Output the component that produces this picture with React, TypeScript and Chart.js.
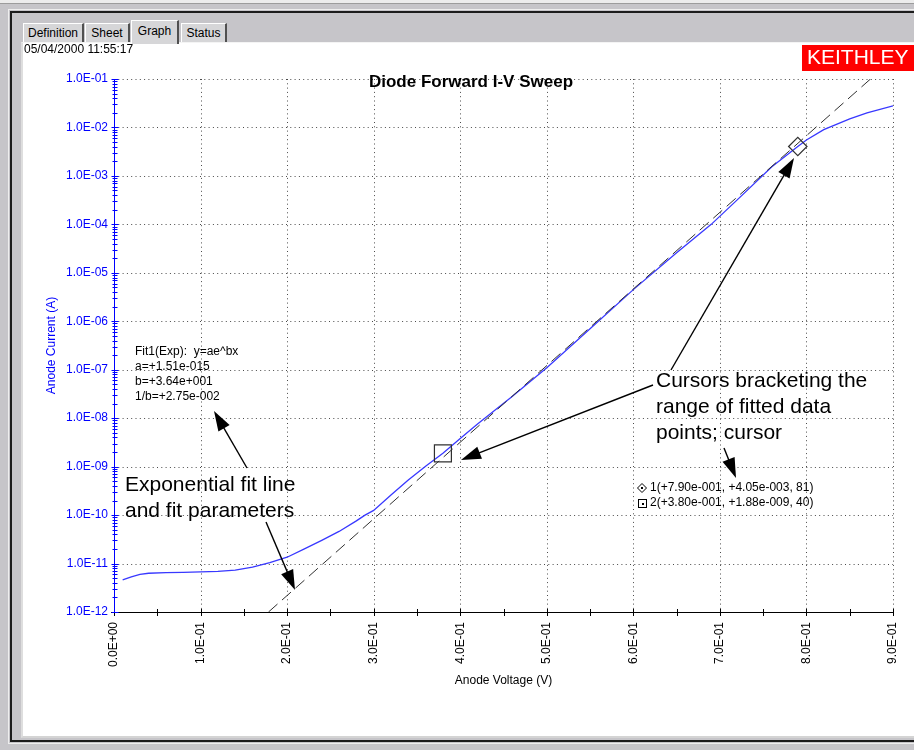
import React, { useEffect, useRef } from 'react';
import { Chart, registerables } from 'chart.js';

Chart.register(...registerables);

// ---- data ----
const voltage = [0.01, 0.02, 0.03, 0.04, 0.06, 0.08, 0.10, 0.12, 0.14, 0.16, 0.18, 0.20, 0.22, 0.24, 0.26, 0.28, 0.29, 0.30, 0.32, 0.34, 0.36, 0.38, 0.40, 0.42, 0.44, 0.46, 0.50, 0.55, 0.60, 0.65, 0.69, 0.72, 0.76, 0.79, 0.80, 0.82, 0.85, 0.87, 0.90];
const current = [4.6e-12, 5.3e-12, 6.0e-12, 6.3e-12, 6.5e-12, 6.6e-12, 6.7e-12, 6.9e-12, 7.3e-12, 8.4e-12, 1.05e-11, 1.35e-11, 2.0e-11, 3.0e-11, 4.6e-11, 7.6e-11, 1.0e-10, 1.25e-10, 2.6e-10, 5.3e-10, 1.02e-9, 1.88e-9, 3.8e-9, 7.6e-9, 1.45e-8, 2.8e-8, 1.1e-7, 7.0e-7, 4.5e-6, 2.6e-5, 1.0e-4, 3.2e-4, 1.55e-3, 4.05e-3, 5.5e-3, 9.0e-3, 1.5e-2, 2.0e-2, 2.8e-2];

const fitVoltage = [0.1785, 0.874];
const fitCurrent = [1e-12, 1e-1];

const cursorVoltage = [0.79, 0.38];
const cursorCurrent = [4.05e-3, 1.88e-9];

const xTickValues = [0, 0.1, 0.2, 0.3, 0.4, 0.5, 0.6, 0.7, 0.8, 0.9];
const xMinorValues = [0.05, 0.15, 0.25, 0.35, 0.45, 0.55, 0.65, 0.75, 0.85];
const yDecades = [-12, -11, -10, -9, -8, -7, -6, -5, -4, -3, -2, -1];

const chartTitle = 'Diode Forward I-V Sweep';
const xTitle = 'Anode Voltage (V)';
const yTitle = 'Anode Current (A)';
const timestamp = '05/04/2000 11:55:17';
const logoText = 'KEITHLEY';
const fitParamLines = ['Fit1(Exp):  y=ae^bx', 'a=+1.51e-015', 'b=+3.64e+001', '1/b=+2.75e-002'];
const cursorLegendLines = ['1(+7.90e-001, +4.05e-003, 81)', '2(+3.80e-001, +1.88e-009, 40)'];
const cursorNoteLines = ['Cursors bracketing the', 'range of fitted data', 'points; cursor'];
const fitNoteLines = ['Exponential fit line', 'and fit parameters'];
const tabs = ['Definition', 'Sheet', 'Graph', 'Status'];

const FONT = '"Liberation Sans", Arial, sans-serif';

function fmtExp(v: number): string {
  if (v === 0) return '0.0E+00';
  const e = Math.floor(Math.log10(Math.abs(v)) + 1e-9);
  const m = v / Math.pow(10, e);
  return `${m.toFixed(1)}E${e < 0 ? '-' : '+'}${String(Math.abs(e)).padStart(2, '0')}`;
}

function drawArrow(ctx: CanvasRenderingContext2D, x1: number, y1: number, x2: number, y2: number) {
  const headLen = 20;
  const headW = 6.5;
  const ang = Math.atan2(y2 - y1, x2 - x1);
  const c = Math.cos(ang);
  const s = Math.sin(ang);
  ctx.beginPath();
  ctx.moveTo(x1, y1);
  ctx.lineTo(x2 - c * headLen * 0.7, y2 - s * headLen * 0.7);
  ctx.stroke();
  ctx.beginPath();
  ctx.moveTo(x2, y2);
  ctx.lineTo(x2 - headLen * c + headW * s, y2 - headLen * s - headW * c);
  ctx.lineTo(x2 - headLen * c - headW * s, y2 - headLen * s + headW * c);
  ctx.closePath();
  ctx.fill();
}

const gridPlugin = {
  id: 'gridAxes',
  beforeDatasetsDraw(chart: any) {
    const { ctx, chartArea } = chart;
    const { left, right, top, bottom } = chartArea;
    const xs = chart.scales.x;
    const ys = chart.scales.y;
    ctx.save();
    // dotted grid
    ctx.strokeStyle = '#4a4a4a';
    ctx.lineWidth = 1;
    ctx.setLineDash([1, 3.3]);
    xTickValues.forEach((v) => {
      if (v === 0) return;
      const px = Math.round(xs.getPixelForValue(v)) + 0.5;
      ctx.beginPath();
      ctx.moveTo(px, top);
      ctx.lineTo(px, bottom);
      ctx.stroke();
    });
    yDecades.forEach((d) => {
      if (d === -12) return;
      const py = Math.round(ys.getPixelForValue(Math.pow(10, d))) + 0.5;
      ctx.beginPath();
      ctx.moveTo(left, py);
      ctx.lineTo(right, py);
      ctx.stroke();
    });
    ctx.setLineDash([]);
    // x axis
    const ay = Math.round(bottom) + 0.5;
    ctx.strokeStyle = '#000';
    ctx.beginPath();
    ctx.moveTo(left - 3, ay);
    ctx.lineTo(right, ay);
    ctx.stroke();
    [...xTickValues, ...xMinorValues].forEach((v) => {
      const px = Math.round(xs.getPixelForValue(v)) + 0.5;
      ctx.beginPath();
      ctx.moveTo(px, ay - 3.5);
      ctx.lineTo(px, ay + 3.5);
      ctx.stroke();
    });
    // y axis (blue)
    const ax = Math.round(left) + 0.5;
    ctx.strokeStyle = '#0000ff';
    ctx.beginPath();
    ctx.moveTo(ax, top);
    ctx.lineTo(ax, bottom);
    ctx.stroke();
    yDecades.forEach((d) => {
      for (let m = 1; m <= 9; m++) {
        if (d === -1 && m > 1) break;
        const py = Math.round(ys.getPixelForValue(m * Math.pow(10, d))) + 0.5;
        const half = m === 1 ? 3 : 2;
        ctx.beginPath();
        ctx.moveTo(ax - half, py);
        ctx.lineTo(ax + half + 1, py);
        ctx.stroke();
      }
    });
    ctx.restore();
  },
};

const annotationPlugin = {
  id: 'annotations',
  afterDraw(chart: any) {
    const { ctx } = chart;
    ctx.save();
    ctx.textBaseline = 'middle';
    ctx.textAlign = 'left';
    ctx.fillStyle = '#000';

    // timestamp
    ctx.font = `12px ${FONT}`;
    ctx.fillText(timestamp, 24, 50);

    // logo
    ctx.fillStyle = '#ff0000';
    ctx.fillRect(802, 45, 112, 26);
    ctx.fillStyle = '#ffffff';
    ctx.font = `21px ${FONT}`;
    ctx.fillText(logoText, 807, 58.5);

    // title
    ctx.fillStyle = '#000';
    ctx.textAlign = 'center';
    ctx.font = `bold 17px ${FONT}`;
    ctx.fillText(chartTitle, 471, 82);

    // fit parameters
    ctx.textAlign = 'left';
    ctx.font = `12px ${FONT}`;
    fitParamLines.forEach((t, i) => ctx.fillText(t, 135, 352 + i * 15));

    // cursor legend
    cursorLegendLines.forEach((t, i) => ctx.fillText(t, 650, 488 + i * 15));
    ctx.strokeStyle = '#000';
    ctx.lineWidth = 1;
    ctx.beginPath();
    ctx.moveTo(642, 483.5);
    ctx.lineTo(646.5, 488);
    ctx.lineTo(642, 492.5);
    ctx.lineTo(637.5, 488);
    ctx.closePath();
    ctx.stroke();
    ctx.fillRect(641, 487, 2, 2);
    ctx.strokeRect(638.5, 499.5, 8, 8);
    ctx.fillRect(642, 503, 2, 2);

    // large notes
    ctx.font = `21px ${FONT}`;
    cursorNoteLines.forEach((t, i) => ctx.fillText(t, 656, 381 + i * 26));
    fitNoteLines.forEach((t, i) => ctx.fillText(t, 125, 485 + i * 26));

    // arrows
    ctx.strokeStyle = '#000';
    ctx.fillStyle = '#000';
    ctx.lineWidth = 1.4;
    drawArrow(ctx, 247, 468, 214, 411);
    drawArrow(ctx, 266, 522, 295, 590);
    drawArrow(ctx, 671, 370, 794, 158);
    drawArrow(ctx, 653, 385, 461, 460);
    drawArrow(ctx, 724, 448, 736, 478);
    ctx.restore();
  },
};

function ChartView() {
  const ref = useRef<HTMLCanvasElement | null>(null);
  useEffect(() => {
    if (!ref.current) return;
    const chart = new Chart(ref.current, {
      type: 'line',
      data: {
        datasets: [
          {
            label: 'Fit',
            data: fitVoltage.map((v, i) => ({ x: v, y: fitCurrent[i] })),
            borderColor: '#303030',
            borderWidth: 1,
            borderDash: [12, 6],
            pointRadius: 0,
            fill: false,
            tension: 0,
          },
          {
            label: 'Cursors',
            data: cursorVoltage.map((v, i) => ({ x: v, y: cursorCurrent[i] })),
            showLine: false,
            pointStyle: ['rectRot', 'rect'] as any,
            pointRadius: [9.2, 12] as any,
            borderColor: '#303030',
            borderWidth: 1.2,
            backgroundColor: 'rgba(0,0,0,0)',
          },
          {
            label: 'Sweep',
            data: voltage.map((v, i) => ({ x: v, y: current[i] })),
            borderColor: '#3838ff',
            borderWidth: 1.3,
            pointRadius: 0,
            fill: false,
            tension: 0,
          },
        ],
      },
      options: {
        responsive: false,
        animation: false,
        devicePixelRatio: 1,
        layout: { padding: { left: 40, right: 21, top: 79, bottom: 58 } },
        plugins: {
          legend: { display: false },
          tooltip: { enabled: false },
          title: { display: false },
        },
        scales: {
          x: {
            type: 'linear',
            position: 'bottom',
            min: 0,
            max: 0.9,
            grid: { display: false, drawTicks: false, tickLength: 0 },
            border: { display: false },
            afterBuildTicks: (s: any) => {
              s.ticks = xTickValues.map((v) => ({ value: v }));
            },
            afterFit: (s: any) => {
              s.height = 80;
              s.paddingLeft = 0;
              s.paddingRight = 0;
            },
            ticks: {
              autoSkip: false,
              minRotation: 90,
              maxRotation: 90,
              padding: 10,
              color: '#000',
              font: { family: FONT, size: 12 },
              callback: (v: any) => fmtExp(Number(v)),
            },
            title: {
              display: true,
              text: xTitle,
              color: '#000',
              font: { family: FONT, size: 12 },
              padding: { top: 4, bottom: 4 },
            },
          },
          y: {
            type: 'logarithmic',
            position: 'left',
            min: 1e-12,
            max: 1e-1,
            grid: { display: false, drawTicks: false, tickLength: 0 },
            border: { display: false },
            afterBuildTicks: (s: any) => {
              s.ticks = yDecades.map((d) => ({ value: Math.pow(10, d) }));
            },
            afterFit: (s: any) => {
              s.width = 74;
              s.paddingTop = 0;
              s.paddingBottom = 0;
            },
            ticks: {
              autoSkip: false,
              padding: 6,
              color: '#0000ff',
              font: { family: FONT, size: 12 },
              callback: (v: any) => fmtExp(Number(v)),
            },
            title: {
              display: true,
              text: yTitle,
              color: '#0000ff',
              font: { family: FONT, size: 12 },
              padding: { top: 4, bottom: 4 },
            },
          },
        },
      } as any,
      plugins: [gridPlugin, annotationPlugin],
    });
    return () => chart.destroy();
  }, []);
  return (
    <canvas
      ref={ref}
      width={914}
      height={750}
      style={{ position: 'absolute', left: 0, top: 0, width: 914, height: 750 }}
    />
  );
}

const tabDefs = [
  { left: 23, width: 61 },
  { left: 85, width: 45 },
  { left: 131, width: 48 },
  { left: 181, width: 46 },
];

export default function App() {
  return (
    <div
      style={{
        position: 'fixed',
        left: 0,
        top: 0,
        width: 914,
        height: 750,
        background: '#c6c5c9',
        overflow: 'hidden',
        fontFamily: FONT,
      }}
    >
      <div style={{ position: 'absolute', left: 0, top: 0, width: 914, height: 3, background: '#ececec' }} />
      <div style={{ position: 'absolute', left: 0, top: 3, width: 914, height: 1, background: '#9c9c9c' }} />
      <div
        style={{
          position: 'absolute',
          left: 8,
          top: 9,
          width: 960,
          height: 733,
          borderLeft: '1px solid #eeeeee',
          borderTop: '1px solid #eeeeee',
          borderBottom: '1px solid #eeeeee',
        }}
      />
      <div
        style={{
          position: 'absolute',
          left: 10,
          top: 11,
          width: 960,
          height: 727,
          borderLeft: '2px solid #1c1c1c',
          borderTop: '2px solid #1c1c1c',
          borderBottom: '2px solid #1c1c1c',
        }}
      />
      <div
        style={{
          position: 'absolute',
          left: 21,
          top: 42,
          width: 900,
          height: 693,
          background: '#ffffff',
          borderLeft: '2px solid #dedede',
          borderTop: '1px solid #f4f4f4',
          borderBottom: '2px solid #d4d4d4',
        }}
      />
      {tabs.map((t, i) => {
        const sel = i === 2;
        const d = tabDefs[i];
        return (
          <div
            key={t}
            style={{
              position: 'absolute',
              left: d.left,
              top: sel ? 20 : 23,
              width: d.width,
              height: sel ? 24 : 19,
              boxSizing: 'border-box',
              background: '#d6d6d8',
              borderLeft: '1px solid #ffffff',
              borderTop: '1px solid #ffffff',
              borderRight: '2px solid #505050',
              fontSize: 12,
              lineHeight: sel ? '20px' : '19px',
              textAlign: 'center',
              color: '#000',
              zIndex: sel ? 2 : 1,
            }}
          >
            {t}
          </div>
        );
      })}
      <ChartView />
    </div>
  );
}
